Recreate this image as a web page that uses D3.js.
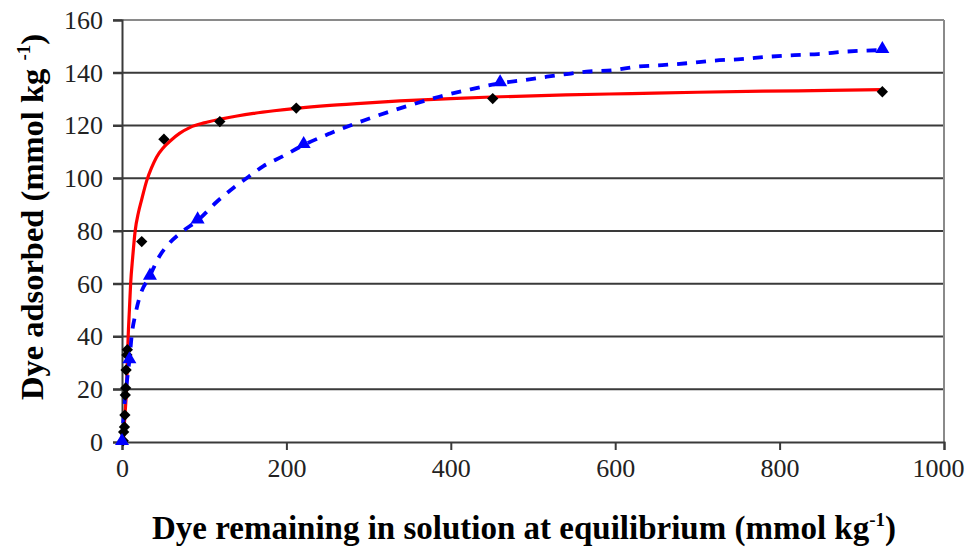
<!DOCTYPE html>
<html>
<head>
<meta charset="utf-8">
<script src="https://cdn.jsdelivr.net/npm/d3@7"></script>
<style>
  html, body { margin: 0; padding: 0; background: #fff; }
  svg { display: block; }
  .serif { font-family: "Liberation Serif", "DejaVu Serif", serif; }
</style>
</head>
<body>
<svg id="chart" width="971" height="551"></svg>
<script>
// ---- data ----
const xTicks = [0, 200, 400, 600, 800, 1000];
const yTicks = [0, 20, 40, 60, 80, 100, 120, 140, 160];

// measured points: black diamonds
const diamondX = [1.5, 2, 3, 3.5, 4, 4.5, 5, 6, 6.5, 24, 51, 119, 212, 451, 925];
const diamondY = [0.5, 3.8, 5.7, 10.2, 17.8, 20.5, 27.3, 33, 35, 76, 114.8, 121.5, 126.6, 130.2, 132.8];

// measured points: blue triangles
const triangleX = [0, 9, 34, 92, 221, 460, 925];
const triangleY = [0, 31, 62.7, 84, 112.6, 136, 148.6];

// red solid fitted curve
const redX = [1.5, 3.5, 5.5, 6.5, 7.5, 9, 10.5, 13, 16, 20, 24, 30, 36, 42, 50, 60, 70, 83, 100, 120, 140, 160, 185, 212, 253, 300, 338, 400, 450, 540, 620, 700, 780, 860, 925];
const redY = [0, 10, 20, 30, 40, 50, 60, 70, 80, 87, 92, 99, 104, 108, 111.5, 114.5, 117, 119.3, 121, 122.4, 123.6, 124.6, 125.6, 126.5, 127.6, 128.6, 129.3, 130.2, 130.8, 131.6, 132.1, 132.6, 133, 133.3, 133.6];

// blue dashed fitted curve
const blueX = [0, 3, 6, 9, 12, 16, 22, 34, 44, 58, 73, 92, 115, 135, 154, 172, 196, 221, 253, 295, 338, 386, 421, 460, 491, 517, 541, 565, 598, 626, 657, 687, 720, 749, 788, 818, 847, 880, 925];
const blueY = [0, 14, 23, 31, 41, 48, 55.5, 63, 69.6, 75.5, 79.7, 84, 91, 96.2, 100.6, 104.6, 108.4, 112.6, 117, 122, 126.5, 130.9, 133.5, 136, 137.3, 138.5, 139.5, 140.4, 141, 142.3, 142.9, 143.6, 144.6, 145.1, 146.1, 146.7, 147.1, 148, 148.6];

const xLabel = "Dye remaining in solution at equilibrium (mmol kg";
const yLabel = "Dye adsorbed (mmol kg ";
const unitExp = "-1";

// ---- drawing ----
const svg = d3.select("#chart");
const x = d3.scaleLinear().domain([0, 1000]).range([122, 944]);
const y = d3.scaleLinear().domain([0, 160]).range([442, 20]);

// gridlines
svg.append("g").selectAll("line").data(yTicks.filter(d => d > 0)).join("line")
  .attr("x1", 113).attr("x2", x(1000))
  .attr("y1", d => y(d)).attr("y2", d => y(d))
  .attr("stroke", d => d === 160 ? "#8a8a8a" : "#3a3a3a")
  .attr("stroke-width", 2);

// right border
svg.append("line")
  .attr("x1", x(1000)).attr("x2", x(1000))
  .attr("y1", y(160)).attr("y2", y(0))
  .attr("stroke", "#8a8a8a").attr("stroke-width", 2);

// axes
const yAxis = d3.axisLeft(y).tickValues(yTicks).tickFormat(d3.format("d")).tickSize(9).tickPadding(10);
const gy = svg.append("g").attr("transform", `translate(${x(0)},0)`).call(yAxis);
gy.attr("font-family", null).attr("font-size", null);
gy.select(".domain").attr("stroke", "#3a3a3a").attr("stroke-width", 2);
gy.selectAll(".tick line").attr("stroke", "#3a3a3a").attr("stroke-width", 2);
gy.selectAll(".tick text").attr("class", "serif")
  .style("font-size", "26px").attr("fill", "#222");

const xAxis = d3.axisBottom(x).tickValues(xTicks).tickFormat(d3.format("d")).tickSize(8).tickPadding(9);
const gx = svg.append("g").attr("transform", `translate(0,${y(0)})`).call(xAxis);
gx.attr("font-family", null).attr("font-size", null);
gx.select(".domain").attr("stroke", "#3a3a3a").attr("stroke-width", 2);
gx.selectAll(".tick line").attr("stroke", "#3a3a3a").attr("stroke-width", 2);
gx.selectAll(".tick text").attr("class", "serif")
  .style("font-size", "26px").attr("fill", "#222");
gx.selectAll(".tick text").filter(d => d === 1000).attr("dx", -6);

// lines
const redPts = redX.map((v, i) => [v, redY[i]]);
const bluePts = blueX.map((v, i) => [v, blueY[i]]);
const line = d3.line().x(d => x(d[0])).y(d => y(d[1])).curve(d3.curveMonotoneX);

svg.append("path").datum(redPts)
  .attr("d", line).attr("fill", "none")
  .attr("stroke", "#ff0000").attr("stroke-width", 3.2);

svg.append("path").datum(bluePts)
  .attr("d", line).attr("fill", "none")
  .attr("stroke", "#0000ff").attr("stroke-width", 3.8)
  .attr("stroke-dasharray", "10,9");

// markers
const diamonds = diamondX.map((v, i) => [v, diamondY[i]]);
const triangles = triangleX.map((v, i) => [v, triangleY[i]]);

svg.append("g").selectAll("path").data(diamonds).join("path")
  .attr("transform", d => `translate(${x(d[0])},${y(d[1])}) rotate(45)`)
  .attr("d", d3.symbol(d3.symbolSquare, 64))
  .attr("fill", "#000");

svg.append("g").selectAll("path").data(triangles).join("path")
  .attr("transform", d => `translate(${x(d[0])},${y(d[1]) - 1})`)
  .attr("d", d3.symbol(d3.symbolTriangle, 85))
  .attr("fill", "#0000ff");

// axis titles
const xt = svg.append("text").attr("class", "serif")
  .attr("x", 524).attr("y", 539)
  .attr("text-anchor", "middle")
  .style("font-weight", "bold").style("font-size", "33px").attr("fill", "#000");
xt.append("tspan").text(xLabel);
xt.append("tspan").attr("dy", -13).style("font-size", "19px").text(unitExp);
xt.append("tspan").attr("dy", 13).text(")");

const yt = svg.append("text").attr("class", "serif")
  .attr("transform", `translate(43,217) rotate(-90)`)
  .attr("text-anchor", "middle")
  .style("font-weight", "bold").style("font-size", "32.5px").attr("fill", "#000");
yt.append("tspan").text(yLabel);
yt.append("tspan").attr("dy", -13).style("font-size", "19px").text(unitExp);
yt.append("tspan").attr("dy", 13).text(")");
</script>
</body>
</html>
